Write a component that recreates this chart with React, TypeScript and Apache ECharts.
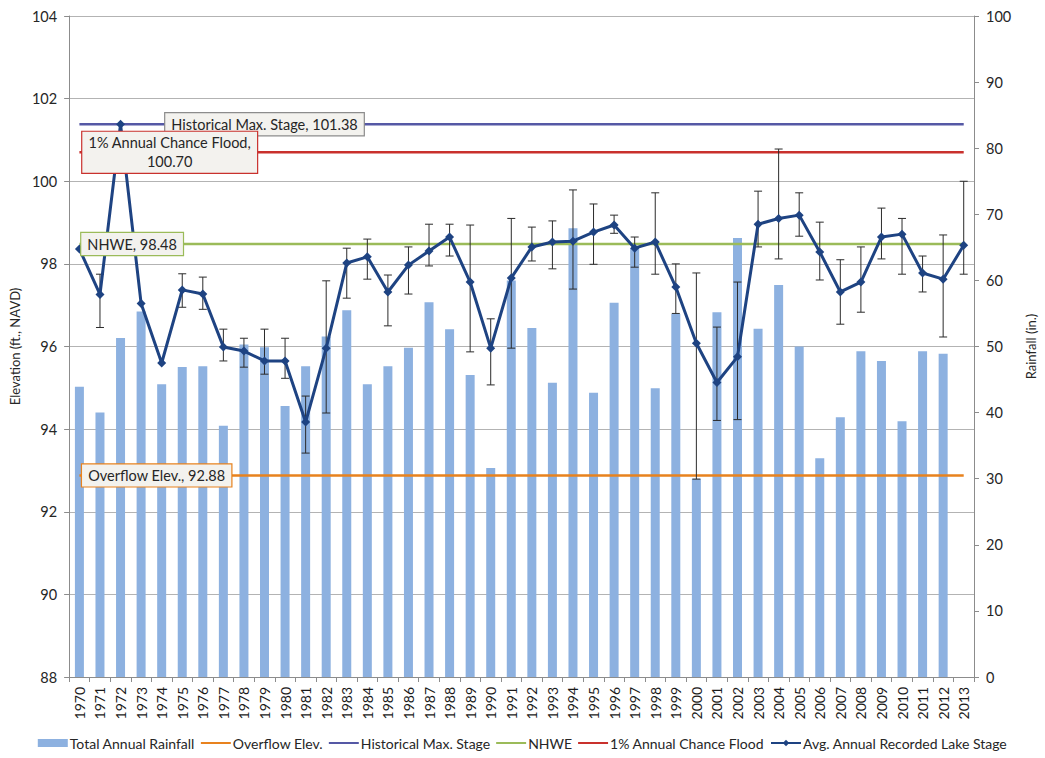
import React, { useEffect, useRef } from "react";
import * as echarts from "echarts";

const years = [
  "1970","1971","1972","1973","1974","1975","1976","1977","1978","1979",
  "1980","1981","1982","1983","1984","1985","1986","1987","1988","1989",
  "1990","1991","1992","1993","1994","1995","1996","1997","1998","1999",
  "2000","2001","2002","2003","2004","2005","2006","2007","2008","2009",
  "2010","2011","2012","2013",
];

const rainfall = [
  43.9, 40.0, 51.3, 55.3, 44.3, 46.9, 47.0, 38.0, 50.3, 49.9,
  41.0, 47.0, 51.5, 55.5, 44.3, 47.0, 49.8, 56.7, 52.6, 45.7,
  31.6, 60.0, 52.8, 44.5, 67.9, 43.0, 56.6, 64.9, 43.7, 54.9,
  30.0, 55.2, 66.4, 52.7, 59.3, 50.0, 33.1, 39.3, 49.3, 47.8,
  38.7, 49.3, 48.9, null,
];

const lakeStage = [
  98.36, 97.26, 101.38, 97.04, 95.60, 97.37, 97.27, 95.99, 95.89, 95.65,
  95.65, 94.17, 95.96, 98.02, 98.17, 97.32, 97.97, 98.31, 98.65, 97.56,
  95.96, 97.66, 98.41, 98.53, 98.55, 98.77, 98.94, 98.38, 98.53, 97.44,
  96.08, 95.13, 95.75, 98.96, 99.10, 99.18, 98.29, 97.32, 97.56, 98.65,
  98.72, 97.78, 97.63, 98.45,
];

const stageLow = [
  null, 96.46, null, null, null, 96.95, 96.90, 95.65, 95.50, 95.33,
  95.23, 93.42, 94.39, 97.17, 97.63, 96.50, 97.27, 97.95, 98.19, 95.87,
  95.07, 95.96, 98.07, 97.88, 97.39, 97.99, 98.74, 97.92, 97.75, 96.80,
  92.79, 94.21, 94.23, 98.41, 98.12, 98.67, 97.61, 96.54, 96.83, 98.12,
  97.75, 97.32, 96.23, 97.75,
];

const stageHigh = [
  null, 97.75, null, null, null, 97.76, 97.68, 96.42, 96.20, 96.42,
  96.20, 94.80, 97.59, 98.38, 98.60, 97.73, 98.41, 98.96, 98.96, 98.94,
  96.67, 99.10, 98.89, 99.04, 99.79, 99.45, 99.18, 98.65, 99.72, 98.00,
  97.78, 96.47, 97.56, 99.76, 100.78, 99.72, 99.01, 98.10, 98.41, 99.35,
  99.10, 98.19, 98.70, 100.00,
];

const overflowElev = 92.88;
const historicalMax = 101.38;
const nhwe = 98.48;
const annualChanceFlood = 100.7;

const leftTicks = { min: 88, max: 104, interval: 2 };
const rightTicks = { min: 0, max: 100, interval: 10 };

const FONT = "Lato, 'Open Sans', sans-serif";

const colors = {
  rain: "#8DB1E0",
  overflow: "#E8821E",
  historical: "#5558A5",
  nhwe: "#9BBB59",
  flood: "#C9312D",
  stage: "#1E4382",
};

// thin horizontal bar centred in a 30x8 box (zero-area corner points fix the box)
const LINE_ICON = "path://M0,0L0,0.01M30,8L30,8.01M0,3.1h30v1.8h-30z";

function constLine(v: number) {
  return years.map(() => v);
}

function labelPoint(coord: string, value: number, text: string, border: string, offset: number[]) {
  return {
    symbol: "rect",
    symbolSize: 1,
    itemStyle: { color: "rgba(0,0,0,0)" },
    silent: true,
    z: 20,
    data: [
      {
        coord: [coord, value],
        label: {
          show: true,
          position: "inside",
          formatter: text,
          offset,
          color: "#262626",
          fontFamily: FONT,
          fontSize: 14.5,
          lineHeight: 19,
          align: "center",
          backgroundColor: "#F3F2EE",
          borderColor: border,
          borderWidth: 1.2,
          padding: [2, 6, 1, 6],
        },
      },
    ],
  };
}

export default function App() {
  const ref = useRef<HTMLDivElement>(null);
  useEffect(() => {
    if (!ref.current) return;
    const chart = echarts.init(ref.current, null, { renderer: "svg" });

    const errData: any[] = [];
    years.forEach((_, i) => {
      if (stageLow[i] != null && stageHigh[i] != null) errData.push([i, stageLow[i], stageHigh[i]]);
    });

    const refLine = (name: string, v: number, color: string, lp: any) => ({
      name,
      type: "line",
      yAxisIndex: 0,
      data: constLine(v),
      symbol: "none",
      lineStyle: { color, width: 2.5 },
      itemStyle: { color },
      z: 4,
      markPoint: lp,
    });

    chart.setOption({
      animation: false,
      backgroundColor: "#ffffff",
      textStyle: { fontFamily: FONT },
      grid: { left: 59, right: 64, top: 16, bottom: 81, containLabel: false },
      legend: {
        bottom: 3,
        left: "center",
        itemWidth: 30,
        itemHeight: 8,
        itemGap: 6,
        textStyle: { fontFamily: FONT, fontSize: 14, color: "#262626", padding: [0, 0, 0, -3] },
        data: [
          { name: "Total Annual Rainfall", icon: "rect" },
          { name: "Overflow Elev.", icon: LINE_ICON },
          { name: "Historical Max. Stage", icon: LINE_ICON },
          { name: "NHWE", icon: LINE_ICON },
          { name: "1% Annual Chance Flood", icon: LINE_ICON },
          { name: "Avg. Annual Recorded Lake Stage" },
        ],
      },
      xAxis: {
        type: "category",
        data: years,
        boundaryGap: true,
        axisLine: { show: true, lineStyle: { color: "#8C8C8C" } },
        axisTick: { show: true, alignWithLabel: false, length: 5, lineStyle: { color: "#8C8C8C" } },
        axisLabel: { rotate: 90, interval: 0, fontSize: 14, color: "#1a1a1a", fontFamily: FONT, margin: 10 },
      },
      yAxis: [
        {
          type: "value",
          min: leftTicks.min,
          max: leftTicks.max,
          interval: leftTicks.interval,
          name: "Elevation (ft., NAVD)",
          nameLocation: "middle",
          nameGap: 40,
          nameRotate: 90,
          nameTextStyle: { fontSize: 13, color: "#262626", fontFamily: FONT },
          axisLine: { show: true, lineStyle: { color: "#8C8C8C" } },
          axisTick: { show: true, length: 5, lineStyle: { color: "#8C8C8C" } },
          axisLabel: { fontSize: 14.5, color: "#262626", fontFamily: FONT, margin: 12 },
          splitLine: { show: true, lineStyle: { color: "#B3B3B3", width: 1 } },
        },
        {
          type: "value",
          min: rightTicks.min,
          max: rightTicks.max,
          interval: rightTicks.interval,
          name: "Rainfall (in.)",
          nameLocation: "middle",
          nameGap: 50,
          nameRotate: 90,
          nameTextStyle: { fontSize: 13, color: "#262626", fontFamily: FONT },
          axisLine: { show: true, lineStyle: { color: "#8C8C8C" } },
          axisTick: { show: true, length: 5, lineStyle: { color: "#8C8C8C" } },
          axisLabel: { fontSize: 14.5, color: "#262626", fontFamily: FONT, margin: 12 },
          splitLine: { show: false },
        },
      ],
      series: [
        {
          name: "Total Annual Rainfall",
          type: "bar",
          yAxisIndex: 1,
          data: rainfall,
          barWidth: 9,
          itemStyle: { color: colors.rain },
          z: 1,
        },
        refLine("Overflow Elev.", overflowElev, colors.overflow,
          labelPoint("1974", overflowElev, "Overflow Elev., 92.88", colors.overflow, [-5, 0])),
        refLine("Historical Max. Stage", historicalMax, colors.historical,
          labelPoint("1979", historicalMax, "Historical Max. Stage, 101.38", "#8C8C8C", [0, 0])),
        refLine("NHWE", nhwe, colors.nhwe,
          labelPoint("1973", nhwe, "NHWE, 98.48", colors.nhwe, [-9, 0])),
        refLine("1% Annual Chance Flood", annualChanceFlood, colors.flood,
          labelPoint("1974", annualChanceFlood, "1% Annual Chance Flood,\n100.70", colors.flood, [8, 0])),
        {
          name: "Stage Range",
          type: "custom",
          yAxisIndex: 0,
          data: errData,
          encode: { x: 0, y: [1, 2] },
          z: 5,
          renderItem: (params: any, api: any) => {
            const xi = api.value(0);
            const top = api.coord([xi, api.value(2)]);
            const bot = api.coord([xi, api.value(1)]);
            const w = 4;
            const st = { stroke: "#2b2b2b", lineWidth: 1 };
            return {
              type: "group",
              children: [
                { type: "line", shape: { x1: top[0], y1: top[1], x2: bot[0], y2: bot[1] }, style: st },
                { type: "line", shape: { x1: top[0] - w, y1: top[1], x2: top[0] + w, y2: top[1] }, style: st },
                { type: "line", shape: { x1: bot[0] - w, y1: bot[1], x2: bot[0] + w, y2: bot[1] }, style: st },
              ],
            };
          },
        },
        {
          name: "Avg. Annual Recorded Lake Stage",
          type: "line",
          yAxisIndex: 0,
          data: lakeStage,
          symbol: "diamond",
          symbolSize: 9,
          showSymbol: true,
          lineStyle: { color: colors.stage, width: 3 },
          itemStyle: { color: colors.stage },
          z: 6,
        },
      ],
    });
    return () => chart.dispose();
  }, []);
  return <div ref={ref} style={{ width: 1045, height: 758, position: "absolute", left: 0, top: 0 }} />;
}
